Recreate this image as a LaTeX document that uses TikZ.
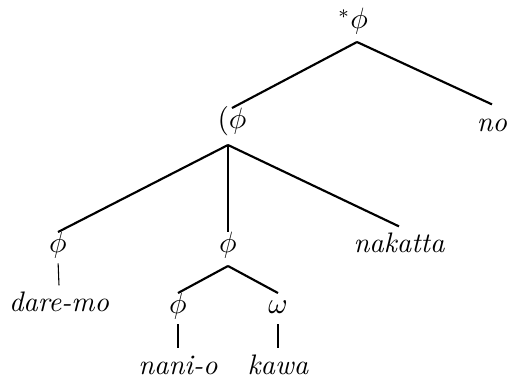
\documentclass[tikz,border=0pt]{standalone}
\usetikzlibrary{positioning}

\begin{document}
\begin{tikzpicture}[
    x=0.372pt, y=-0.372pt,
    every node/.style={font=\fontsize{10.5}{12}\selectfont},
    n/.style={inner sep=0.5pt, text height=7pt, text depth=2pt},
    w/.style={anchor=base, inner sep=2.4pt, text height=7.3pt, text depth=2pt, font=\fontsize{10.5}{12}\selectfont\itshape},
    br/.style={line width=0.8pt},
    lv/.style={shorten <=1.3pt, shorten >=0pt}
]
    \useasboundingbox (0,0) rectangle (508,380);
    % ===== top level =====
    \node[n] (root) at (353, 22)  {$^{*}\phi$};
    \node[n] (pphi) at (232, 122) {$(\phi$};
    \node[w] (no)   at (492, 131) {no};
    \coordinate (rootb) at (357, 42);
    \coordinate (pphib) at (228, 145);
    \draw[br] (rootb) -- (pphi.north);
    \draw[br] (rootb) -- (no.north);

    % ===== middle level =====
    \node[n] (pl)  at (58, 246)  {$\phi$};
    \node[n] (pm)  at (228, 246) {$\phi$};
    \node[w] (nak) at (399, 253) {nakatta};
    \draw[br] (pphib) -- (pl.north);
    \draw[br] (pphib) -- (pm.north);
    \draw[br] (pphib) -- (nak.north);

    % ===== bottom level =====
    \node[w] (dm) at (59, 312) {dare-mo};
    \draw[lv] (pl.south) -- (dm.north);
    \coordinate (pmb) at (228, 266);
    \node[n] (pn) at (178, 307) {$\phi$};
    \node[n] (om) at (278, 307) {$\omega$};
    \draw[br] (pmb) -- (pn.north);
    \draw[br] (pmb) -- (om.north);
    \node[w] (ni) at (178, 375) {nani-o};
    \node[w] (ka) at (278, 375) {kawa};
    \draw[lv] (pn.south) -- (ni.north);
    \draw[lv] (om.south) -- (ka.north);
\end{tikzpicture}
\end{document}
